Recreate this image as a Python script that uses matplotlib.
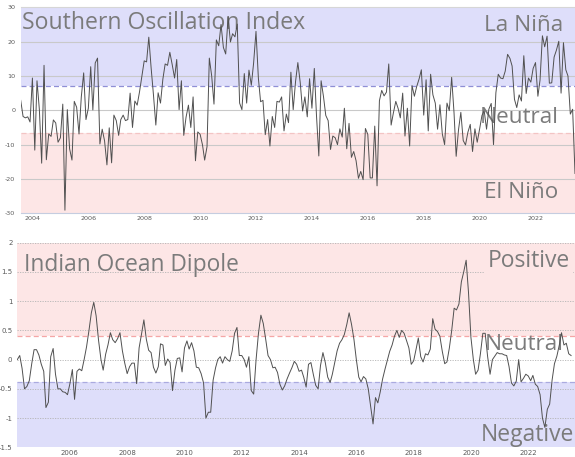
import matplotlib
matplotlib.use("Agg")
import matplotlib.pyplot as plt
import matplotlib.dates as mdates
import matplotlib.ticker as mticker
import pandas as pd

# ---------------- data ----------------
soi_start = "2003-07-01"
soi_values = [
    2.9, -1.8, -2.2, -1.9, -3.4, 9.4,                                   # 2003 Jul-Dec
    -11.6, 8.6, 0.2, -15.4, 13.1, -14.4, -6.9, -7.6, -2.8, -3.7, -9.3, -8.0,   # 2004
    1.8, -29.1, 0.2, -11.2, -14.5, 2.6, 0.9, -6.9, 3.9, 10.9, -2.7, 0.6,       # 2005
    12.7, 0.1, 13.8, 15.2, -9.8, -5.5, -8.9, -15.9, -5.1, -15.3, -1.4, -3.0,   # 2006
    -7.3, -2.7, -1.4, -3.0, -2.7, 5.0, -5.0, 2.7, 1.5, 5.4, 9.8, 14.4,         # 2007
    14.1, 21.3, 12.2, 4.5, -4.3, 5.1, 2.1, 9.1, 13.5, 13.1, 16.9, 13.3,        # 2008
    9.4, 14.8, 0.2, 8.6, -7.3, -2.0, 1.5, -5.0, 3.9, -14.7, -6.3, -7.0,        # 2009
    -10.1, -14.5, -10.6, 15.2, 10.0, 1.8, 20.5, 18.8, 25.0, 18.3, 16.4, 27.1,  # 2010
    19.9, 22.3, 21.4, 25.1, 2.1, 0.2, 10.7, 2.1, 11.7, 7.3, 13.8, 23.0,        # 2011
    9.4, 2.5, 2.9, -7.1, -2.7, -10.4, -1.8, -5.0, 2.6, 2.4, 3.9, -6.0,         # 2012
    -1.1, -3.6, 11.1, 0.2, 8.4, 13.9, 8.1, -0.2, 3.9, -1.9, 9.2, 0.6,          # 2013
    12.2, -1.3, -13.3, 8.6, 4.0, -1.5, -3.0, -11.4, -7.5, -8.0, -10.0, -5.4,   # 2014
    -7.8, 0.6, -11.2, -3.8, -13.7, -12.0, -14.7, -19.8, -17.8, -20.2, -5.3, -7.0,  # 2015
    -19.7, -19.7, -4.6, -22.0, 2.8, 5.8, 4.2, 5.3, 13.5, -4.3, -0.7, 2.6,      # 2016
    0.5, -2.2, 5.0, -7.5, 0.6, -10.4, 7.2, 4.1, 6.9, 9.1, 11.8, -1.4,          # 2017
    8.9, -6.0, 10.5, 4.5, 2.1, -5.5, 1.6, -6.9, -10.0, 2.1, -0.1, 9.6,         # 2018
    -0.7, -13.4, -5.6, -0.6, -8.8, -10.1, -6.4, -4.1, -12.0, -5.4, -9.3, -5.5, # 2019
    -1.5, -0.1, -5.5, 0.3, 2.0, -10.0, 5.1, 10.5, 9.4, 9.2, 11.4, 16.3,        # 2020
    15.1, 12.9, 3.2, 0.8, 4.5, 2.7, 15.9, 4.9, 9.4, 8.2, 12.2, 13.9,           # 2021
    4.1, 8.8, 21.7, 18.5, 21.6, 7.9, 8.0, 15.5, 17.5, 20.1, 5.0, 19.7,         # 2022
    11.8, 10.0, -1.1, 0.3, -18.4,                                       # 2023 Jan-May
]

iod_start = "2004-03-01"
iod_values = [
    0.0, 0.07, -0.15, -0.5, -0.46, -0.36, -0.07, 0.17, 0.17, 0.08,                 # 2004 Mar-Dec
    -0.08, -0.2, -0.82, -0.73, 0.05, 0.19, -0.25, -0.5, -0.5, -0.55, -0.56, -0.6,  # 2005
    -0.41, -0.17, -0.68, -0.2, -0.16, -0.19, 0.0, 0.22, 0.5, 0.8, 0.98, 0.75,      # 2006
    0.33, 0.0, -0.18, 0.09, 0.25, 0.46, 0.34, 0.29, 0.36, 0.46, 0.15, -0.06,       # 2007
    -0.24, -0.12, -0.06, -0.06, -0.41, 0.2, 0.43, 0.68, 0.35, 0.16, 0.12, -0.13,   # 2008
    -0.23, -0.12, 0.27, 0.25, -0.1, 0.01, -0.05, -0.53, -0.18, 0.02, 0.03, -0.21,  # 2009
    0.2, 0.32, 0.18, 0.29, 0.15, -0.13, -0.14, -0.24, -0.4, -1.0, -0.9, -0.9,      # 2010
    -0.35, -0.14, 0.0, 0.05, -0.06, 0.05, 0.0, -0.03, 0.15, 0.45, 0.55, 0.07,      # 2011
    0.07, 0.0, -0.13, 0.05, -0.53, -0.59, -0.01, 0.45, 0.76, 0.62, 0.35, 0.07,     # 2012
    0.0, -0.14, -0.13, -0.22, -0.42, -0.52, -0.45, -0.33, -0.23, -0.14, -0.03, -0.08,  # 2013
    -0.2, -0.18, -0.3, -0.47, -0.08, -0.05, -0.25, -0.44, -0.5, -0.1, 0.12, -0.05, # 2014
    -0.3, -0.39, -0.25, -0.05, 0.15, 0.28, 0.34, 0.43, 0.6, 0.8, 0.6, 0.35,        # 2015
    0.0, -0.3, -0.38, -0.29, -0.33, -0.5, -0.8, -1.1, -0.65, -0.74, -0.55, -0.33,  # 2016
    -0.16, 0.0, 0.14, 0.25, 0.4, 0.5, 0.38, 0.5, 0.45, 0.33, 0.2, -0.08,           # 2017
    -0.02, 0.18, 0.37, 0.05, -0.04, 0.1, 0.08, 0.18, 0.7, 0.52, 0.48, 0.4,         # 2018
    0.14, -0.07, -0.04, 0.2, 0.5, 0.88, 0.85, 0.95, 1.33, 1.5, 1.7, 1.15,          # 2019
    0.38, 0.0, -0.25, -0.18, 0.1, 0.45, 0.45, 0.05, -0.25, 0.0, 0.06, 0.12,        # 2020
    0.1, 0.1, 0.08, 0.07, -0.12, -0.4, -0.45, -0.37, 0.0, -0.38, -0.32, -0.25,     # 2021
    -0.28, -0.36, -0.27, -0.42, -0.46, -0.6, -1.0, -1.16, -0.85, -0.76, -0.35, -0.07,  # 2022
    0.06, 0.25, 0.46, 0.25, 0.28, 0.1, 0.07,                                       # 2023 Jan-Jul
]
iod_xmax = "2023-08-20"

soi_ticks = [-30, -20, -10, 0, 10, 20, 30]
iod_ticks = [-1.5, -1, -0.5, 0, 0.5, 1, 1.5, 2]
soi_thresholds = (-6.6, 7)
iod_thresholds = (-0.38, 0.4)

soi_title = "Southern Oscillation Index"
soi_labels = ["La Niña", "Neutral", "El Niño"]
iod_title = "Indian Ocean Dipole"
iod_labels = ["Positive", "Neutral", "Negative"]

# ---------------- style ----------------
BLUE = "#dedefa"
PINK = "#fde6e6"
LINE = "#505050"
TXT = "#7b7b7b"
TICK = "#5a5a5a"
BIGFONT = ["Open Sans", "DejaVu Sans"]

W, H = 575, 457
fig = plt.figure(figsize=(W / 100, H / 100), dpi=100)
fig.patch.set_facecolor("white")


def fx(px):
    return px / W


def fy(py):
    return (H - py) / H


soi_dates = pd.date_range(soi_start, periods=len(soi_values), freq="MS") + pd.offsets.MonthEnd(0)
iod_dates = pd.date_range(iod_start, periods=len(iod_values), freq="MS")

# ---------- top: SOI ----------
ax1 = fig.add_axes([fx(20.7), fy(213.3), fx(575 - 20.7), (213.3 - 7.3) / H])
ax1.set_xlim(soi_dates[0], soi_dates[-1])
ax1.set_ylim(soi_ticks[0], soi_ticks[-1])
ax1.axhspan(soi_thresholds[1], soi_ticks[-1], color=BLUE, lw=0, zorder=0)
ax1.axhspan(soi_ticks[0], soi_thresholds[0], color=PINK, lw=0, zorder=0)
for v in soi_ticks[1:-1]:
    ax1.axhline(v, color="#c9c9c9", lw=0.8, zorder=1)
ax1.axhline(soi_thresholds[1], color="#8f8fd6", lw=0.9, ls=(0, (4, 2.5)), zorder=2)
ax1.axhline(soi_thresholds[0], color="#f3c4c4", lw=0.9, ls=(0, (4, 2.5)), zorder=2)
ax1.plot(soi_dates, soi_values, color=LINE, lw=0.7, zorder=4)

for s in ["left", "right"]:
    ax1.spines[s].set_visible(False)
ax1.spines["top"].set_color("#d6d6d6")
ax1.spines["bottom"].set_color("#c5cde0")
ax1.spines["top"].set_linewidth(0.8)
ax1.spines["bottom"].set_linewidth(0.8)
ax1.set_yticks(soi_ticks)
ax1.yaxis.set_major_formatter(mticker.FormatStrFormatter("%g"))
ax1.xaxis.set_major_locator(mdates.YearLocator(2))
ax1.xaxis.set_major_formatter(mdates.DateFormatter("%Y"))
ax1.tick_params(axis="both", length=0, labelsize=4.6, labelcolor=TICK)
ax1.tick_params(axis="y", pad=4)
ax1.tick_params(axis="x", pad=2)

tr = fig.transFigure
ax1.text(fx(21.5), fy(29.3), soi_title, transform=tr, fontsize=16.6, color=TXT,
         family=BIGFONT, va="baseline", ha="left", zorder=3)
ax1.text(fx(484.5), fy(30.7), soi_labels[0], transform=tr, fontsize=16.2, color=TXT,
         family=BIGFONT, va="baseline", ha="left", zorder=3)
ax1.text(fx(479.5), fy(122.7), soi_labels[1], transform=tr, fontsize=16.2, color=TXT,
         family=BIGFONT, va="baseline", ha="left", zorder=3)
ax1.text(fx(484.5), fy(198.0), soi_labels[2], transform=tr, fontsize=16.2, color=TXT,
         family=BIGFONT, va="baseline", ha="left", zorder=3)

# ---------- bottom: IOD ----------
ax2 = fig.add_axes([fx(17.3), fy(447.3), fx(575 - 17.3), (447.3 - 242.7) / H])
ax2.set_xlim(iod_dates[0], pd.Timestamp(iod_xmax))
ax2.set_ylim(iod_ticks[0], iod_ticks[-1])
ax2.axhspan(iod_thresholds[1], iod_ticks[-1], color=PINK, lw=0, zorder=0)
ax2.axhspan(iod_ticks[0], iod_thresholds[0], color=BLUE, lw=0, zorder=0)
for v in iod_ticks[1:]:
    ax2.axhline(v, color="#b4b4b4", lw=0.6, ls=(0, (1.5, 1.5)), zorder=1)
ax2.axhline(iod_thresholds[1], color="#f5a6a6", lw=0.9, ls=(0, (4, 2.5)), zorder=2)
ax2.axhline(iod_thresholds[0], color="#aaaadf", lw=0.9, ls=(0, (4, 2.5)), zorder=2)
ax2.plot(iod_dates, iod_values, color=LINE, lw=0.7, zorder=4)

for s in ax2.spines.values():
    s.set_visible(False)
ax2.set_yticks(iod_ticks)
ax2.yaxis.set_major_formatter(mticker.FormatStrFormatter("%g"))
ax2.xaxis.set_major_locator(mdates.YearLocator(2))
ax2.xaxis.set_major_formatter(mdates.DateFormatter("%Y"))
ax2.tick_params(axis="both", length=0, labelsize=5.0, labelcolor=TICK)
ax2.tick_params(axis="y", pad=3.5)
ax2.tick_params(axis="x", pad=2)

ax2.text(fx(23.5), fy(270.7), iod_title, transform=tr, fontsize=16.4, color=TXT,
         family=BIGFONT, va="baseline", ha="left", zorder=3)
ax2.text(fx(487.5), fy(267.3), iod_labels[0], transform=tr, fontsize=16.5, color=TXT,
         family=BIGFONT, va="baseline", ha="left", zorder=3,
         bbox=dict(facecolor=PINK, edgecolor="none", pad=2))
ax2.text(fx(484.5), fy(349.7), iod_labels[1], transform=tr, fontsize=16.2, color=TXT,
         family=BIGFONT, va="baseline", ha="left", zorder=3)
ax2.text(fx(480.5), fy(441.3), iod_labels[2], transform=tr, fontsize=16.5, color=TXT,
         family=BIGFONT, va="baseline", ha="left", zorder=3)

fig.savefig("out.png", dpi=100)
